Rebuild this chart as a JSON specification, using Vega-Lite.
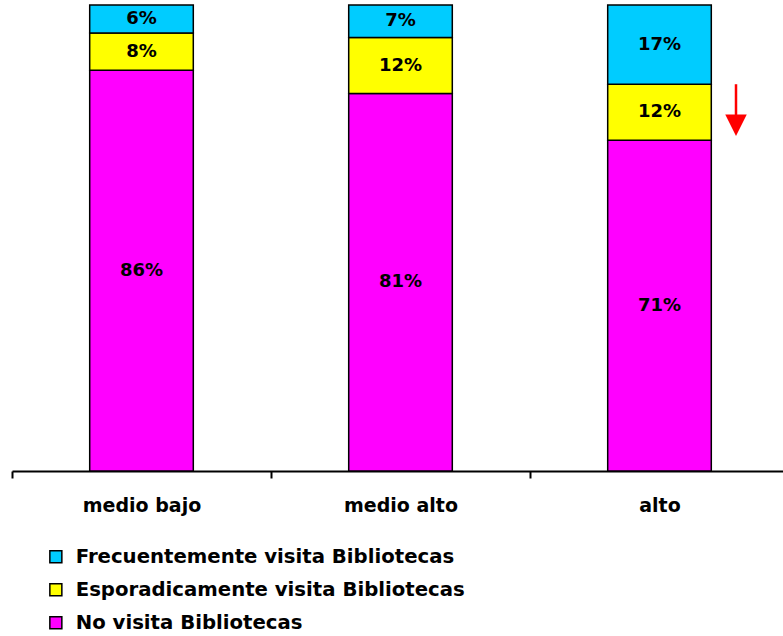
{
  "$schema": "https://vega.github.io/schema/vega-lite/v6.json",
  "autosize": "none",
  "width": 777,
  "height": 466,
  "padding": {"left": 12, "top": 5, "right": 0, "bottom": 165},
  "background": "white",
  "config": {
    "view": {"stroke": null},
    "font": "DejaVu Sans"
  },
  "datasets": {
    "main": [
      {"nivel": "medio bajo", "categoria": "No visita Bibliotecas", "orden": 1, "valor": 86},
      {"nivel": "medio bajo", "categoria": "Esporadicamente visita Bibliotecas", "orden": 2, "valor": 8},
      {"nivel": "medio bajo", "categoria": "Frecuentemente visita Bibliotecas", "orden": 3, "valor": 6},
      {"nivel": "medio alto", "categoria": "No visita Bibliotecas", "orden": 1, "valor": 81},
      {"nivel": "medio alto", "categoria": "Esporadicamente visita Bibliotecas", "orden": 2, "valor": 12},
      {"nivel": "medio alto", "categoria": "Frecuentemente visita Bibliotecas", "orden": 3, "valor": 7},
      {"nivel": "alto", "categoria": "No visita Bibliotecas", "orden": 1, "valor": 71},
      {"nivel": "alto", "categoria": "Esporadicamente visita Bibliotecas", "orden": 2, "valor": 12},
      {"nivel": "alto", "categoria": "Frecuentemente visita Bibliotecas", "orden": 3, "valor": 17}
    ],
    "flecha": [
      {"nivel": "alto", "desde": 83, "hasta": 76, "punta": 74.2}
    ]
  },
  "layer": [
    {
      "data": {"name": "main"},
      "mark": {"type": "bar", "stroke": "black", "strokeWidth": 1.5},
      "encoding": {
        "x": {
          "field": "nivel", "type": "nominal",
          "sort": ["medio bajo", "medio alto", "alto"],
          "scale": {"paddingInner": 0.6, "paddingOuter": 0.3},
          "axis": {
            "title": null, "labelAngle": 0,
            "tickOffset": -129.5, "labelOffset": 129.5,
            "domainColor": "black", "domainWidth": 2, "tickColor": "black", "tickWidth": 2,
            "tickSize": 7, "labelPadding": 18,
            "labelFont": "DejaVu Sans", "labelFontSize": 19, "labelFontWeight": "bold", "labelColor": "black"
          }
        },
        "y": {
          "field": "valor", "type": "quantitative", "stack": "zero",
          "scale": {"domain": [0, 100], "nice": false},
          "axis": null
        },
        "order": {"field": "orden", "type": "quantitative"},
        "color": {
          "field": "categoria", "type": "nominal",
          "scale": {
            "domain": ["Frecuentemente visita Bibliotecas", "Esporadicamente visita Bibliotecas", "No visita Bibliotecas"],
            "range": ["#00CCFF", "#FFFF00", "#FF00FF"]
          },
          "legend": {
            "title": null, "orient": "none", "legendX": 34, "legendY": 542,
            "symbolType": "square", "symbolSize": 144, "symbolStrokeColor": "black", "symbolStrokeWidth": 1.5,
            "labelFont": "DejaVu Sans", "labelFontSize": 19.7, "labelFontWeight": "bold", "labelColor": "black",
            "rowPadding": 12, "labelOffset": 10, "labelLimit": 700
          }
        }
      }
    },
    {
      "data": {"name": "main"},
      "transform": [
        {"stack": "valor", "groupby": ["nivel"], "sort": [{"field": "orden"}], "as": ["y0", "y1"]},
        {"calculate": "(datum.y0 + datum.y1) / 2", "as": "medio"},
        {"calculate": "datum.valor + '%'", "as": "etiqueta"}
      ],
      "mark": {"type": "text", "font": "DejaVu Sans", "fontSize": 18, "fontWeight": "bold", "color": "black", "baseline": "middle"},
      "encoding": {
        "x": {"field": "nivel", "type": "nominal", "sort": ["medio bajo", "medio alto", "alto"]},
        "y": {"field": "medio", "type": "quantitative"},
        "text": {"field": "etiqueta"}
      }
    },
    {
      "data": {"name": "flecha"},
      "mark": {"type": "rule", "color": "#FF0000", "strokeWidth": 2.5, "xOffset": 76.5},
      "encoding": {
        "x": {"field": "nivel", "type": "nominal", "sort": ["medio bajo", "medio alto", "alto"]},
        "y": {"field": "desde", "type": "quantitative"},
        "y2": {"field": "hasta"}
      }
    },
    {
      "data": {"name": "flecha"},
      "mark": {"type": "point", "shape": "M-1,-1L1,-1L0,1Z", "filled": true, "color": "#FF0000", "opacity": 1, "size": 460, "xOffset": 76.5},
      "encoding": {
        "x": {"field": "nivel", "type": "nominal", "sort": ["medio bajo", "medio alto", "alto"]},
        "y": {"field": "punta", "type": "quantitative"}
      }
    }
  ]
}
